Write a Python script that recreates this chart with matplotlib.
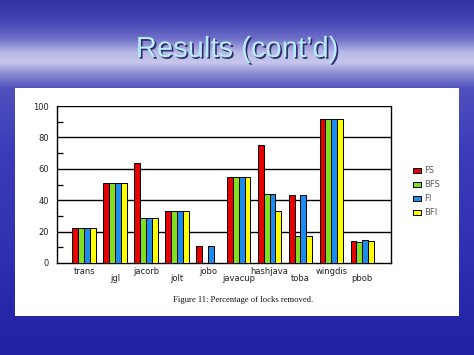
import numpy as np
import matplotlib
matplotlib.use("Agg")
import matplotlib.pyplot as plt
from matplotlib.patches import Rectangle
import matplotlib.patheffects as pe

# ---- data ----
benchmarks = ["trans", "jgl", "jacorb", "jolt", "jobo", "javacup",
              "hashjava", "toba", "wingdis", "pbob"]
series_names = ["FS", "BFS", "FI", "BFI"]
fs  = [22.5, 51, 63.5, 33, 11, 54.5, 75, 43.5, 91.5, 14.2]
bfs = [22.5, 51, 28.5, 33, 0, 54.5, 44, 17.5, 91.5, 13.2]
fi  = [22.5, 51, 28.5, 33, 11, 54.5, 44, 43.5, 91.5, 14.4]
bfi = [22.5, 51, 28.5, 33, 0, 54.5, 33, 17.5, 91.5, 13.8]
yticks = [0, 20, 40, 60, 80, 100]
title = "Results (cont\u2019d)"
caption = "Figure 11: Percentage of locks removed."

colors = ["#e80000", "#7ee020", "#1a8cf0", "#ffff00"]

W, H = 474, 355
fig = plt.figure(figsize=(W / 100, H / 100), dpi=100)

# ---- background gradient ----
bg = fig.add_axes([0, 0, 1, 1])
bg.set_axis_off()
prof_y = [0, 20, 38, 52, 62, 72, 88, 150, 250, 300, 355]
prof_c = np.array([(50, 50, 165), (68, 68, 182), (110, 110, 200), (185, 185, 232),
                   (198, 198, 236), (145, 145, 212), (80, 80, 190), (60, 60, 186),
                   (48, 48, 178), (40, 40, 170), (34, 34, 165)]) / 255.0
ys = np.arange(H)
img = np.zeros((H, W, 3))
for k in range(3):
    img[:, :, k] = np.interp(ys, prof_y, prof_c[:, k])[:, None]
bg.imshow(img, extent=[0, W, H, 0], aspect="auto")
bg.set_xlim(0, W)
bg.set_ylim(H, 0)
bg.add_patch(Rectangle((15, 88), 444, 228, facecolor="white", edgecolor="none"))

# title
fig.text(237 / W, 1 - 49 / H, title, ha="center", va="center",
         fontsize=21, family="Liberation Sans", color="#b8eaf8",
         path_effects=[pe.withSimplePatchShadow(offset=(1.2, -1.2), shadow_rgbFace="#202060", alpha=0.9)])

# ---- chart ----
ax = fig.add_axes([57 / W, 1 - 263 / H, (391 - 57) / W, (263 - 106) / H])
x = np.arange(len(benchmarks))
bw = 0.19
for i, (vals, c) in enumerate(zip([fs, bfs, fi, bfi], colors)):
    ax.bar(x + (i - 1.5) * bw, vals, bw, color=c, edgecolor="black",
           linewidth=0.7, label=series_names[i], zorder=3)

ax.set_xlim(-0.88, 9.93)
ax.set_ylim(0, 100)
ax.set_yticks(yticks)
ax.set_yticklabels([str(v) for v in yticks], fontsize=6, family="DejaVu Sans", color="#222222")
ax.set_yticks([10, 30, 50, 70, 90], minor=True)
ax.tick_params(axis="y", which="major", length=0, pad=6)
ax.tick_params(axis="y", which="minor", direction="in", length=4.5, width=0.9)
for v in yticks[1:]:
    ax.axhline(v, color="black", lw=1.0, zorder=1)
for s in ax.spines.values():
    s.set_linewidth(1.0)
    s.set_color("black")
ax.spines["top"].set_visible(False)

ax.set_xticks(x)
ax.set_xticklabels([])
ax.tick_params(axis="x", length=0)
for i, name in enumerate(benchmarks):
    yoff = -0.055 if i % 2 == 0 else -0.1
    ax.text(i, yoff, name, transform=ax.get_xaxis_transform(), ha="center", va="center",
            fontsize=6, color="#222222")

# legend
handles, labels = ax.get_legend_handles_labels()
leg = fig.legend(handles, labels, loc="upper left",
                 bbox_to_anchor=(410 / W, 1 - 163 / H), frameon=False,
                 fontsize=6, handlelength=0.9, handleheight=0.45,
                 handletextpad=0.4, labelspacing=0.6, borderaxespad=0)
for t in leg.get_texts():
    t.set_color("#555555")

# caption
fig.text(243 / W, 1 - 300 / H, caption, ha="center", va="center",
         fontsize=6.2, family="Liberation Serif", color="#111111")

fig.savefig("out.png", dpi=100)
